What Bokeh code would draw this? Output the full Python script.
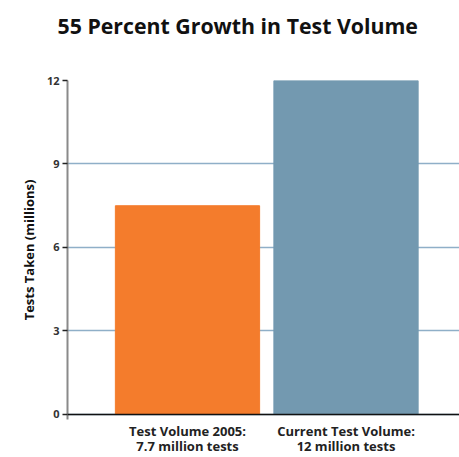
from bokeh.plotting import figure
from bokeh.models import FixedTicker, Span, Range1d
from bokeh.embed import file_html
from bokeh.resources import INLINE

title_text = "55 Percent Growth in Test Volume"
categories = ["Test Volume 2005:\n7.7 million tests", "Current Test Volume:\n12 million tests"]
positions = [0, 1]
values = [7.5, 12.0]
colors = ["#F47C2C", "#7399B0"]
y_ticks = [0, 3, 6, 9, 12]

FONT = "Open Sans"

p = figure(width=459, height=457, output_backend="svg", toolbar_location=None,
           x_range=Range1d(-0.757, 1.716), y_range=Range1d(-0.18, 12),
           min_border_left=67, min_border_right=0, min_border_top=80, min_border_bottom=34)

# trailing newline reserves an empty second line so the title sits near the top
p.title.text = title_text + "\n"
p.title.text_font = FONT
p.title.text_font_size = "21.3px"
p.title.text_font_style = "bold"
p.title.text_color = "#111111"
p.title.align = "left"
p.title.vertical_align = "top"
p.title.offset = -10
p.title.standoff = 20

p.vbar(x=positions, top=values, bottom=0, width=0.91, color=colors)

p.outline_line_color = None
p.xgrid.grid_line_color = None
p.ygrid.ticker = FixedTicker(ticks=y_ticks)
p.ygrid.grid_line_color = "#8FAFC8"
p.ygrid.grid_line_width = 1.5

p.yaxis.ticker = FixedTicker(ticks=y_ticks)
p.yaxis.axis_line_color = "#8a8a8a"
p.yaxis.axis_line_width = 2
p.yaxis.major_tick_in = 0
p.yaxis.major_tick_out = 5
p.yaxis.major_tick_line_color = "#222222"
p.yaxis.major_tick_line_width = 1.5
p.yaxis.minor_tick_line_color = None
p.yaxis.major_label_text_font = FONT
p.yaxis.major_label_text_font_size = "11px"
p.yaxis.major_label_text_font_style = "bold"
p.yaxis.major_label_text_color = "#333333"
p.yaxis.major_label_standoff = 3
p.yaxis.axis_label = "Tests Taken (millions)"
p.yaxis.axis_label_text_font = FONT
p.yaxis.axis_label_text_font_size = "13px"
p.yaxis.axis_label_text_font_style = "bold"
p.yaxis.axis_label_text_color = "#111111"
p.yaxis.axis_label_standoff = 6

p.xaxis.ticker = FixedTicker(ticks=positions)
p.xaxis.major_label_overrides = {pos: lab for pos, lab in zip(positions, categories)}
p.xaxis.axis_line_color = None
p.xaxis.major_tick_line_color = None
p.xaxis.minor_tick_line_color = None
p.xaxis.major_tick_out = 0
p.xaxis.major_label_text_font = FONT
p.xaxis.major_label_text_font_size = "13px"
p.xaxis.major_label_text_font_style = "bold"
p.xaxis.major_label_text_color = "#222222"
p.xaxis.major_label_text_line_height = 0.86
p.xaxis.major_label_standoff = 2

p.add_layout(Span(location=0, dimension="width", line_color="#111111", line_width=1.5))

open("out.html", "w").write(file_html(p, INLINE))
